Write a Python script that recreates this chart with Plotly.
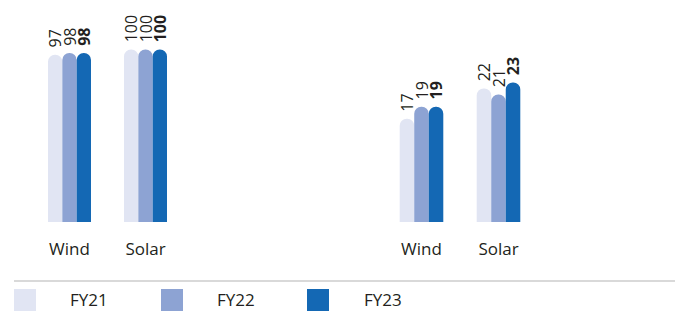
import plotly.graph_objects as go

categories = ["Wind", "Solar"]
series = ["FY21", "FY22", "FY23"]
left_fy21 = [97, 100]
left_fy22 = [98, 100]
left_fy23 = [98, 100]
right_fy21 = [17, 22]
right_fy22 = [19, 21]
right_fy23 = [19, 23]
colors = ["#E1E5F3", "#8DA3D3", "#1468B4"]

W, H = 675, 311
FONT = "Open Sans"
TXT = "#231F20"

fig = go.Figure()
panels = [
    ("x", "y", [left_fy21, left_fy22, left_fy23]),
    ("x2", "y2", [right_fy21, right_fy22, right_fy23]),
]
for xa, ya, vals in panels:
    for i, (name, v) in enumerate(zip(series, vals)):
        bold = (i == 2)
        fig.add_trace(go.Bar(
            x=categories, y=v, name=name, xaxis=xa, yaxis=ya,
            marker=dict(color=colors[i], line=dict(width=0), cornerradius=7),
            text=v, texttemplate="\u00a0<b>%{y}</b>" if bold else "\u00a0%{y}",
            textposition="outside", textangle=-90, constraintext="none",
            textfont=dict(family=FONT, size=16, color=TXT),
            cliponaxis=False, showlegend=False, offsetgroup=str(i),
            hoverinfo="skip",
        ))

def px_x(p):
    return p / W

def px_y(p):
    return 1 - p / H

ydom = [px_y(222), px_y(20)]
axis_common = dict(type="category", range=[-0.5, 1.5], showline=False, showgrid=False,
                   zeroline=False, ticks="", tickfont=dict(family=FONT, size=17, color=TXT),
                   ticklabelstandoff=15, fixedrange=True)
fig.update_layout(
    width=W, height=H, margin=dict(l=0, r=0, t=0, b=0),
    paper_bgcolor="white", plot_bgcolor="white",
    barmode="group", bargap=0.434, bargroupgap=0,
    xaxis=dict(domain=[px_x(31.5), px_x(183.5)], anchor="y", **axis_common),
    xaxis2=dict(domain=[px_x(383), px_x(537)], anchor="y2", **axis_common),
    yaxis=dict(domain=ydom, range=[0, 202 / 1.725], visible=False, anchor="x", fixedrange=True),
    yaxis2=dict(domain=ydom, range=[0, 202 / 6.07], visible=False, anchor="x2", fixedrange=True),
)

# legend rule line
fig.add_shape(type="line", xref="paper", yref="paper",
              x0=px_x(14), x1=1, y0=px_y(281), y1=px_y(281),
              line=dict(color="#D9D9D9", width=2))
sw_x = [14, 161, 307]
tx_x = [89, 236, 383]
for i, name in enumerate(series):
    fig.add_shape(type="rect", xref="paper", yref="paper",
                  x0=px_x(sw_x[i]), x1=px_x(sw_x[i] + 22), y0=px_y(311), y1=px_y(289),
                  fillcolor=colors[i], line=dict(width=0))
    fig.add_annotation(xref="paper", yref="paper", x=px_x(tx_x[i]), y=px_y(299),
                       text=name, showarrow=False, xanchor="center", yanchor="middle",
                       font=dict(family=FONT, size=17, color=TXT))

fig.write_html("out.html", config={"displayModeBar": False},
               post_script="document.body.style.margin='0';document.body.style.overflow='hidden';")
